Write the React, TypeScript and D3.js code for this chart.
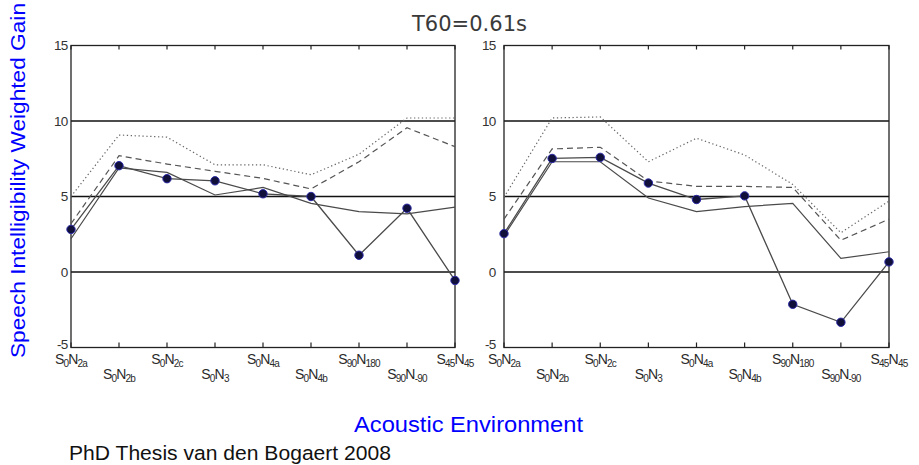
import React from "react";
import * as d3 from "d3";

const categories = ["S0N2a", "S0N2b", "S0N2c", "S0N3", "S0N4a", "S0N4b", "S90N180", "S90N-90", "S45N45"];
const labelSubS = ["0", "0", "0", "0", "0", "0", "90", "90", "45"];
const labelSubN = ["2a", "2b", "2c", "3", "4a", "4b", "180", "-90", "45"];
const yTicks = [15, 10, 5, 0, -5];
const gridValues = [10, 5, 0];

const leftMarked = [2.82, 7.04, 6.18, 6.04, 5.18, 5.0, 1.11, 4.22, -0.56];
const leftSolid = [2.2, 6.9, 6.6, 5.1, 5.6, 4.55, 4.0, 3.85, 4.3];
const leftDashed = [3.2, 7.7, 7.15, 6.67, 6.2, 5.5, 7.3, 9.55, 8.3];
const leftDotted = [5.0, 9.07, 8.93, 7.1, 7.1, 6.44, 7.8, 10.2, 10.2];

const rightMarked = [2.54, 7.52, 7.59, 5.89, 4.8, 5.04, -2.14, -3.33, 0.67];
const rightSolid = [2.4, 7.3, 7.3, 4.9, 4.0, 4.33, 4.55, 0.9, 1.34];
const rightDashed = [3.5, 8.15, 8.26, 6.03, 5.67, 5.67, 5.6, 2.1, 3.5];
const rightDotted = [4.95, 10.2, 10.27, 7.3, 8.86, 7.75, 5.8, 2.6, 4.7];

const title = "T60=0.61s";
const yLabel = "Speech Intelligibility Weighted Gain";
const xLabel = "Acoustic Environment";
const credit = "PhD Thesis van den Bogaert 2008";

const FONT = "'Liberation Sans', Arial, Helvetica, sans-serif";

type PanelProps = {
  x0: number;
  x1: number;
  labelEnd: number;
  marked: number[];
  solid: number[];
  dashed: number[];
  dotted: number[];
};

const Y_TOP = 45.5;
const Y_BOT = 347.5;

function Panel({ x0, x1, labelEnd, marked, solid, dashed, dotted }: PanelProps) {
  const x = d3.scalePoint<string>().domain(categories).range([x0, x1]);
  const y = d3.scaleLinear().domain([-5, 15]).range([Y_BOT, Y_TOP]);
  const line = d3
    .line<number>()
    .x((_, i) => x(categories[i]) as number)
    .y((d) => y(d));
  const lineColor = "#4a4a4a";
  return (
    <g>
      {gridValues.map((v) => (
        <line key={v} x1={x0} x2={x1} y1={y(v)} y2={y(v)} stroke="#111" strokeWidth={1.5} />
      ))}
      <rect x={x0} y={Y_TOP} width={x1 - x0} height={Y_BOT - Y_TOP} fill="none" stroke="#222" strokeWidth={1.3} />
      {categories.map((c) => (
        <g key={c}>
          <line x1={x(c)} x2={x(c)} y1={Y_BOT} y2={Y_BOT - 5} stroke="#222" strokeWidth={1.2} />
          <line x1={x(c)} x2={x(c)} y1={Y_TOP} y2={Y_TOP + 4} stroke="#222" strokeWidth={1.2} />
        </g>
      ))}
      {yTicks.map((t) => (
        <text
          key={t}
          x={labelEnd}
          y={y(t) + (t === -5 ? -3 : 0)}
          textAnchor="end"
          dominantBaseline="central"
          fontFamily={FONT}
          fontSize={13.5}
          fill="#333"
          letterSpacing={-0.8}
        >
          {t}
        </text>
      ))}
      {categories.map((c, i) => (
        <text
          key={c}
          x={x(c)}
          y={i % 2 === 0 ? 364 : 378.5}
          textAnchor="middle"
          fontFamily={FONT}
          fontSize={14}
          fill="#2a2a2a"
          letterSpacing={-0.8}
        >
          S
          <tspan fontSize={10} dy={3}>
            {labelSubS[i]}
          </tspan>
          <tspan dy={-3}>N</tspan>
          <tspan fontSize={10} dy={3}>
            {labelSubN[i]}
          </tspan>
        </text>
      ))}
      <path d={line(dotted) || ""} fill="none" stroke="#666" strokeWidth={1.2} strokeDasharray="1.3 2.6" />
      <path d={line(dashed) || ""} fill="none" stroke="#555" strokeWidth={1.2} strokeDasharray="6 4" />
      <path d={line(solid) || ""} fill="none" stroke={lineColor} strokeWidth={1.2} />
      <path d={line(marked) || ""} fill="none" stroke={lineColor} strokeWidth={1.3} />
      {marked.map((v, i) => (
        <circle
          key={i}
          cx={x(categories[i])}
          cy={y(v)}
          r={4.2}
          fill="#10103a"
          stroke="#2a2aa8"
          strokeWidth={1}
        />
      ))}
    </g>
  );
}

export default function App() {
  return (
    <svg
      width={919}
      height={465}
      viewBox="0 0 919 465"
      style={{ position: "absolute", left: 0, top: 0, background: "#fff" }}
    >
      <rect x={0} y={0} width={919} height={465} fill="#fff" />
      <Panel x0={71} x1={455} labelEnd={67.5} marked={leftMarked} solid={leftSolid} dashed={leftDashed} dotted={leftDotted} />
      <Panel x0={504} x1={889} labelEnd={495.5} marked={rightMarked} solid={rightSolid} dashed={rightDashed} dotted={rightDotted} />
      <text
        x={412}
        y={30.5}
        fontFamily="'DejaVu Sans', sans-serif"
        fontSize={21}
        fill="#3a3a3a"
        textLength={115}
        lengthAdjust="spacingAndGlyphs"
      >
        {title}
      </text>
      <text
        transform="translate(25,180.5) rotate(-90)"
        textAnchor="middle"
        fontFamily={FONT}
        fontSize={20}
        fill="#0000ff"
        textLength={355}
        lengthAdjust="spacingAndGlyphs"
      >
        {yLabel}
      </text>
      <text
        x={354}
        y={432}
        fontFamily={FONT}
        fontSize={22}
        fill="#0000ff"
        textLength={229}
        lengthAdjust="spacingAndGlyphs"
      >
        {xLabel}
      </text>
      <text
        x={69}
        y={460}
        fontFamily={FONT}
        fontSize={20.5}
        fill="#111"
        textLength={322}
        lengthAdjust="spacingAndGlyphs"
      >
        {credit}
      </text>
    </svg>
  );
}
